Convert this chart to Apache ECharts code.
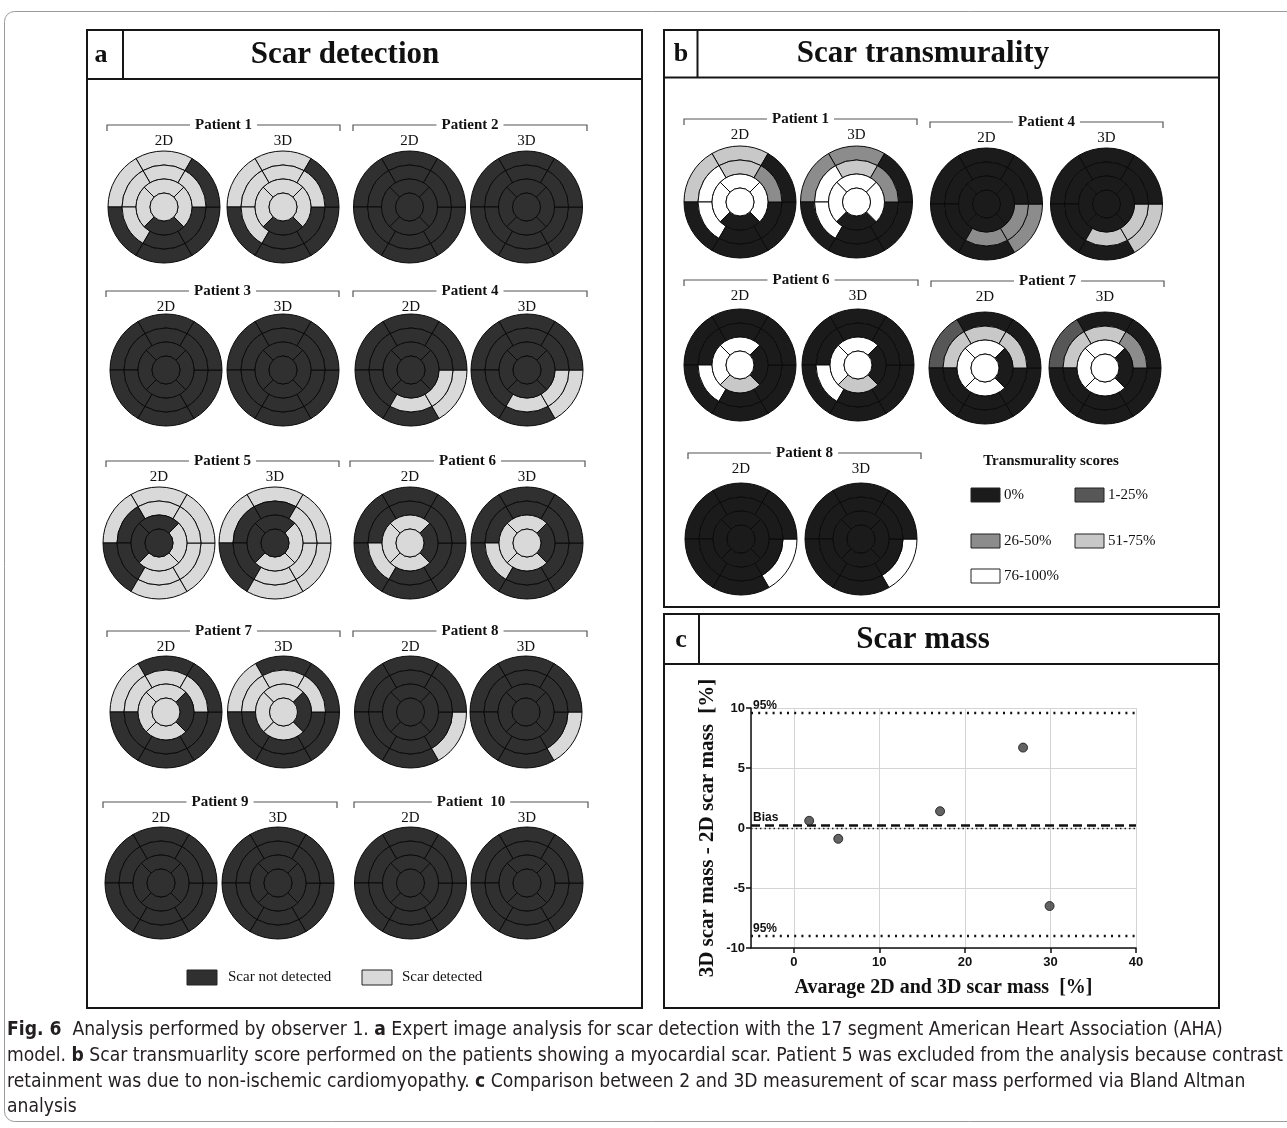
<!DOCTYPE html>
<html><head><meta charset="utf-8">
<script src="https://cdn.jsdelivr.net/npm/echarts@6/dist/echarts.min.js"></script>
<style>html,body{margin:0;padding:0;background:#fff}#c{width:1287px;height:1128px}</style>
</head><body><div id="c"></div>
<script>
// ---------------- DATA ----------------
// 17-segment AHA order: basal 1-6 (anterior, anteroseptal, inferoseptal, inferior, inferolateral, anterolateral),
// mid 7-12 (same order), apical 13-16 (anterior, septal, inferior, lateral), 17 apex
const detectionPatients = ['Patient 1','Patient 2','Patient 3','Patient 4','Patient 5','Patient 6','Patient 7','Patient 8','Patient 9','Patient  10'];
const detection2D = [
  [1,1,0,0,0,0, 1,1,1,0,0,1, 1,1,0,1, 1],
  [0,0,0,0,0,0, 0,0,0,0,0,0, 0,0,0,0, 0],
  [0,0,0,0,0,0, 0,0,0,0,0,0, 0,0,0,0, 0],
  [0,0,0,0,1,0, 0,0,0,1,1,0, 0,0,0,0, 0],
  [1,1,0,1,1,1, 1,0,0,1,1,1, 0,0,1,1, 0],
  [0,0,0,0,0,0, 0,0,1,0,0,0, 1,1,1,0, 1],
  [0,1,0,0,0,0, 1,1,0,0,0,1, 1,1,1,0, 1],
  [0,0,0,0,1,0, 0,0,0,0,0,0, 0,0,0,0, 0],
  [0,0,0,0,0,0, 0,0,0,0,0,0, 0,0,0,0, 0],
  [0,0,0,0,0,0, 0,0,0,0,0,0, 0,0,0,0, 0]
];
const detection3D = [
  [1,1,0,0,0,0, 1,1,1,0,0,1, 1,1,0,1, 1],
  [0,0,0,0,0,0, 0,0,0,0,0,0, 0,0,0,0, 0],
  [0,0,0,0,0,0, 0,0,0,0,0,0, 0,0,0,0, 0],
  [0,0,0,0,1,0, 0,0,0,1,1,0, 0,0,0,0, 0],
  [1,1,0,1,1,1, 0,0,0,1,1,1, 0,0,1,1, 0],
  [0,0,0,0,0,0, 0,0,1,0,0,0, 1,1,1,0, 1],
  [0,1,0,0,0,0, 1,1,0,0,0,1, 1,1,1,0, 1],
  [0,0,0,0,1,0, 0,0,0,0,0,0, 0,0,0,0, 0],
  [0,0,0,0,0,0, 0,0,0,0,0,0, 0,0,0,0, 0],
  [0,0,0,0,0,0, 0,0,0,0,0,0, 0,0,0,0, 0]
];
const detectionLegend = ['Scar not detected','Scar detected'];

// transmurality score classes: 0 = 0%, 1 = 1-25%, 2 = 26-50%, 3 = 51-75%, 4 = 76-100%
const transPatients = ['Patient 1','Patient 4','Patient 6','Patient 7','Patient 8'];
const trans2D = [
  [3,3,0,0,0,0, 3,4,4,0,0,2, 4,4,0,4, 4],
  [0,0,0,0,2,0, 0,0,0,2,2,0, 0,0,0,0, 0],
  [0,0,0,0,0,0, 0,0,4,0,0,0, 4,4,3,0, 4],
  [0,1,0,0,0,0, 3,3,0,0,0,3, 4,4,4,0, 4],
  [0,0,0,0,4,0, 0,0,0,0,0,0, 0,0,0,0, 0]
];
const trans3D = [
  [2,2,0,0,0,0, 3,4,4,0,0,2, 4,4,0,4, 4],
  [0,0,0,0,3,0, 0,0,0,3,3,0, 0,0,0,0, 0],
  [0,0,0,0,0,0, 0,0,4,0,0,0, 4,4,3,0, 4],
  [0,1,0,0,0,0, 3,3,0,0,0,2, 4,4,4,0, 4],
  [0,0,0,0,4,0, 0,0,0,0,0,0, 0,0,0,0, 0]
];
const transLegend = ['0%','1-25%','26-50%','51-75%','76-100%'];
const transLegendTitle = 'Transmurality scores';

// Bland-Altman (scar mass)
const avgScarMass = [1.8, 5.2, 17.1, 26.8, 29.9];
const diffScarMass = [0.6, -0.9, 1.4, 6.7, -6.5];
const baLineValues = [9.58, 0.26, -9.0];
const baLineLabels = ['95%', 'Bias', '95%'];
const xTitle = 'Avarage 2D and 3D scar mass  [%]';
const yTitle = '3D scar mass - 2D scar mass  [%]';

const panelTitles = ['Scar detection','Scar transmurality','Scar mass'];
const panelLetters = ['a','b','c'];
const modalityLabels = ['2D','3D'];

const captionLines = [
  [['b','Fig. 6'],['r','  Analysis performed by observer 1. '],['b','a'],['r',' Expert image analysis for scar detection with the 17 segment American Heart Association (AHA)']],
  [['r','model. '],['b','b'],['r',' Scar transmuarlity score performed on the patients showing a myocardial scar. Patient 5 was excluded from the analysis because contrast']],
  [['r','retainment was due to non-ischemic cardiomyopathy. '],['b','c'],['r',' Comparison between 2 and 3D measurement of scar mass performed via Bland Altman']],
  [['r','analysis']]
];

// ---------------- STYLE / LAYOUT ----------------
const detectionColors = ['#303030','#d9d9d9'];
const transColors = ['#1b1b1b','#575757','#8c8c8c','#c8c8c8','#ffffff'];
const SERIF = "'Liberation Serif','DejaVu Serif',serif";
const SANS = "'Liberation Sans',Arial,sans-serif";
const CAP = "'Liberation Sans Narrow','DejaVu Sans Condensed','Liberation Sans',sans-serif";

const layoutA = [
  {x2:164,x3:283,cy:207,by:125,b1:107,b2:340},
  {x2:409.5,x3:526.5,cy:207,by:125,b1:353,b2:587},
  {x2:166,x3:283,cy:370,by:291,b1:106,b2:339},
  {x2:411,x3:527,cy:370,by:291,b1:353,b2:587},
  {x2:159,x3:275,cy:543,by:461,b1:106,b2:339},
  {x2:410,x3:527,cy:543,by:461,b1:350,b2:585},
  {x2:166,x3:283.5,cy:712,by:631,b1:107,b2:340},
  {x2:410.5,x3:526,cy:712,by:631,b1:353,b2:587},
  {x2:161,x3:278,cy:883,by:802,b1:103,b2:337},
  {x2:410.5,x3:527,cy:883,by:802,b1:354,b2:588}
];
const layoutB = [
  {x2:740,x3:856.5,cy:202,by:119,b1:684,b2:917},
  {x2:986.5,x3:1106.5,cy:204,by:122,b1:930,b2:1163},
  {x2:740,x3:858,cy:365,by:280,b1:684,b2:918},
  {x2:985,x3:1105,cy:368,by:281,b1:931,b2:1164},
  {x2:741,x3:861,cy:539,by:453,b1:688,b2:921}
];

// ---------------- BUILD ----------------
const G = [];
const series = [];
function addLine(x1,y1,x2,y2,stroke,w,z){G.push({type:'line',silent:true,z:z||5,shape:{x1,y1,x2,y2},style:{stroke,lineWidth:w}});}
function addRect(x,y,w,h,fill,stroke,lw,r,z){G.push({type:'rect',silent:true,z:z||5,shape:{x,y,width:w,height:h,r:r||0},style:{fill,stroke,lineWidth:lw}});}
function addText(x,y,s,o){
  o=o||{};
  const al=o.align||'center';
  const st={text:s,fill:o.fill||'#111',font:(o.weight||'normal')+' '+(o.size||15)+'px '+(o.family||SERIF),
    textAlign:al,align:al,textVerticalAlign:'middle',verticalAlign:'middle'};
  if(o.bg){st.backgroundColor=o.bg;st.padding=o.pad||[0,4];}
  if(o.rich){st.rich=o.rich;}
  G.push({type:'text',silent:true,z:o.z||20,x,y,scaleX:o.scaleX||1,style:st});
}

function bullseye(cx,cy,vals,colors){
  const rings=[
    {r:[42,56],seg:vals.slice(0,6),start:60},
    {r:[28,42],seg:vals.slice(6,12),start:60},
    {r:[14,28],seg:vals.slice(12,16),start:45},
    {r:[0,14],seg:vals.slice(16,17),start:90}
  ];
  rings.forEach(rg=>series.push({
    type:'pie',center:[cx,cy],radius:rg.r,startAngle:rg.start,clockwise:false,
    silent:true,animation:false,label:{show:false},labelLine:{show:false},
    emphasis:{disabled:true},itemStyle:{borderColor:'#0a0a0a',borderWidth:1},
    data:rg.seg.map(v=>({value:1,itemStyle:{color:colors[v]}}))
  }));
}

function group(name,L,v2,v3,colors){
  G.push({type:'polyline',silent:true,z:5,shape:{points:[[L.b1,L.by+6],[L.b1,L.by],[L.b2,L.by],[L.b2,L.by+6]]},
    style:{stroke:'#555',lineWidth:1.2,fill:'none'}});
  addText((L.b1+L.b2)/2,L.by,name,{weight:'bold',size:15,bg:'#fff',pad:[0,5]});
  addText(L.x2,L.by+16,modalityLabels[0],{size:15});
  addText(L.x3,L.by+16,modalityLabels[1],{size:15});
  bullseye(L.x2,L.cy,v2,colors);
  bullseye(L.x3,L.cy,v3,colors);
}

// outer frame
G.push({type:'rect',silent:true,z:1,shape:{x:4.5,y:11.5,width:1320,height:1110,r:10},style:{fill:'none',stroke:'#9a9a9a',lineWidth:1}});

// panels
const PC='#161616';
addRect(87,30,555,978,'none',PC,2);
addLine(87,79,642,79,PC,2); addLine(123,30,123,79,PC,2);
addText(101,55,panelLetters[0],{weight:'bold',size:26});
addText(345,55,panelTitles[0],{weight:'bold',size:31});

addRect(664,30,555,577,'none',PC,2);
addLine(664,77.5,1219,77.5,PC,2); addLine(697.5,30,697.5,77.5,PC,2);
addText(681,54,panelLetters[1],{weight:'bold',size:26});
addText(923,54,panelTitles[1],{weight:'bold',size:31});

addRect(664,614,555,394,'none',PC,2);
addLine(664,664,1219,664,PC,2); addLine(699,614,699,664,PC,2);
addText(681,640,panelLetters[2],{weight:'bold',size:26});
addText(923,640,panelTitles[2],{weight:'bold',size:31});

// panel a
detectionPatients.forEach((p,i)=>group(p,layoutA[i],detection2D[i],detection3D[i],detectionColors));
// legend a
[[187,228],[362,402]].forEach((pos,i)=>{
  addRect(pos[0],970,30,15,detectionColors[i],'#222',1,0,6);
  addText(pos[1],977,detectionLegend[i],{align:'left',size:15});
});

// panel b
transPatients.forEach((p,i)=>group(p,layoutB[i],trans2D[i],trans3D[i],transColors));
addText(1051,461,transLegendTitle,{weight:'bold',size:15});
const legPos=[[971,495],[1075,495],[971,541],[1075,541],[971,576]];
transLegend.forEach((t,i)=>{
  addRect(legPos[i][0],legPos[i][1]-7,29,14,transColors[i],'#222',1,0,6);
  addText(legPos[i][0]+33,legPos[i][1],t,{align:'left',size:15});
});

// caption
const mctx=document.createElement('canvas').getContext('2d');
const CAPSIZE=19;
function segFont(k){return (k==='b'?'bold ':'normal ')+CAPSIZE+'px '+CAP;}
function lineWidth(line){return line.reduce((s,seg)=>{mctx.font=segFont(seg[0]);return s+mctx.measureText(seg[1]).width;},0);}
const capScale=1276/lineWidth(captionLines[1]);
const capY=[1030,1056,1082,1107];
const capRich={
  b:{fontWeight:'bold',fontSize:CAPSIZE,fontFamily:CAP,fill:'#231f20'},
  r:{fontWeight:'normal',fontSize:CAPSIZE,fontFamily:CAP,fill:'#231f20'}
};
captionLines.forEach((line,i)=>{
  const s=line.map(seg=>'{'+seg[0]+'|'+seg[1]+'}').join('');
  addText(7,capY[i],s,{align:'left',family:CAP,size:CAPSIZE,rich:capRich,scaleX:capScale,fill:'#231f20'});
});

// Bland-Altman scatter
const dotStyle={color:'#111',width:2.3,type:[2,5.2]};
const markData=baLineValues.map((v,i)=>{
  const isBias=baLineLabels[i]==='Bias';
  return {yAxis:v,
    lineStyle:isBias?{color:'#111',width:2.6,type:[9,5]}:dotStyle,
    label:{show:true,formatter:baLineLabels[i],position:'insideStartTop',distance:[2,1],
      color:'#111',fontWeight:'bold',fontSize:12,fontFamily:SANS}};
});
markData.push({yAxis:0,lineStyle:{color:'#222',width:1.4,type:[1.5,3]},label:{show:false}});

series.push({
  type:'scatter',data:avgScarMass.map((x,i)=>[x,diffScarMass[i]]),
  symbol:'circle',symbolSize:9,z:5,
  itemStyle:{color:'#3c3c3c',borderColor:'#111',borderWidth:1},
  markLine:{symbol:'none',silent:true,animation:false,data:markData}
});

const axisLabelStyle={color:'#111',fontWeight:'bold',fontSize:13,fontFamily:SANS};
const option={
  animation:false,
  backgroundColor:'#fff',
  graphic:{elements:G},
  grid:{left:751,top:708,width:385,height:240,containLabel:false},
  xAxis:{type:'value',min:-5,max:40,
    axisLine:{show:true,onZero:false,lineStyle:{color:'#111',width:1.5}},
    axisTick:{show:true,length:5,lineStyle:{color:'#111',width:1.5}},
    axisLabel:{...axisLabelStyle,showMinLabel:false,margin:8},
    splitLine:{show:true,lineStyle:{color:'#d4d4d4',width:1}},
    name:xTitle,nameLocation:'middle',nameGap:30,
    nameTextStyle:{fontFamily:SERIF,fontWeight:'bold',fontSize:20,color:'#111'}},
  yAxis:{type:'value',min:-10,max:10,interval:5,
    axisLine:{show:true,onZero:false,lineStyle:{color:'#111',width:1.5}},
    axisTick:{show:true,length:5,lineStyle:{color:'#111',width:1.5}},
    axisLabel:{...axisLabelStyle,margin:6},
    splitLine:{show:true,lineStyle:{color:'#d4d4d4',width:1}},
    name:yTitle,nameLocation:'middle',nameGap:33,
    nameTextStyle:{fontFamily:SERIF,fontWeight:'bold',fontSize:21,color:'#111'}},
  series
};
const chart=echarts.init(document.getElementById('c'),null,{renderer:'canvas',width:1287,height:1128});
chart.setOption(option);
</script></body></html>
